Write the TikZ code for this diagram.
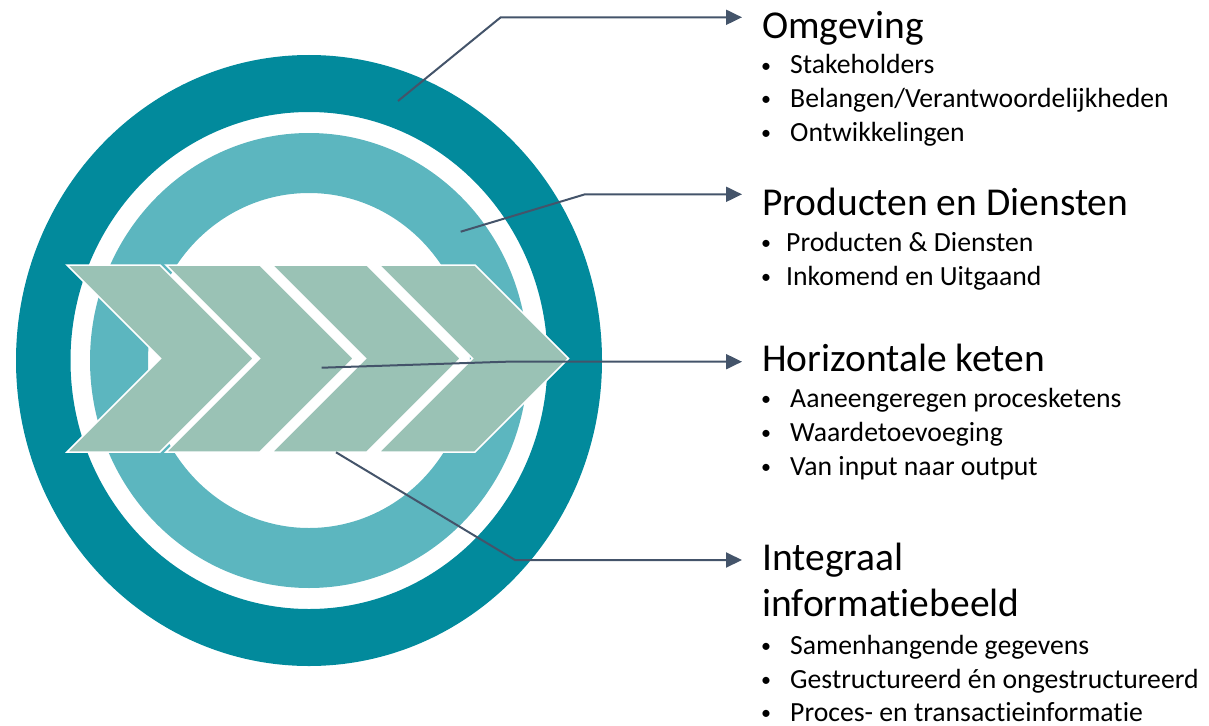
\documentclass[tikz,border=0pt]{standalone}
\usepackage{fontspec}
\setmainfont[Ligatures=CommonOff]{Carlito}
\usetikzlibrary{arrows.meta}
\definecolor{darkteal}{HTML}{028A9C}
\definecolor{lightteal}{HTML}{5CB6BF}
\definecolor{chevfill}{HTML}{9AC2B5}
\definecolor{linecol}{HTML}{44546A}
\begin{document}
\begin{tikzpicture}[x=1pt,y=-1pt,
  chevbox/.style={fill=chevfill,draw=white,line width=1.5pt,line join=miter},
  conn/.style={draw=linecol,line width=2pt,-{Triangle[length=16pt,width=15pt]}},
  headtxt/.style={anchor=base west,inner sep=0pt,font=\fontsize{39.5}{46}\selectfont},
  itemtxt/.style={anchor=base west,inner sep=0pt,font=\fontsize{27.7}{32}\selectfont},
  bul/.style={anchor=base,inner sep=0pt,font=\fontsize{20}{24}\selectfont}]
\useasboundingbox (0,0) rectangle (1209,725);
% rings
\fill[darkteal,even odd rule] (309,360.5) ellipse [x radius=293pt, y radius=305.5pt]
  (309,360.5) ellipse [x radius=238.5pt, y radius=248.5pt];
\fill[lightteal,even odd rule] (309,360.5) ellipse [x radius=219pt, y radius=227.5pt]
  (309,360.5) ellipse [x radius=161pt, y radius=167.5pt];
% chevrons
\foreach \xl/\xr in {67/160,166/260,272/367,379/475}{
  \draw[chevbox] (\xl,265) -- (\xr,265) -- ({\xr+93.5},358.5) -- (\xr,452) -- (\xl,452) -- ({\xl+93.5},358.5) -- cycle;
}
% connector points
\coordinate (s1) at (398,101);   \coordinate (b1) at (500.7,17.3); \coordinate (t1) at (742,17.3);
\coordinate (s2) at (460.7,231.7); \coordinate (b2) at (585,194.3); \coordinate (t2) at (742,194.3);
\coordinate (s3) at (321.7,367.7); \coordinate (b3) at (507,361.7); \coordinate (t3) at (742,361.7);
\coordinate (s4) at (336,452.3); \coordinate (b4) at (515,560); \coordinate (t4) at (742,560);
\draw[conn] (s1) -- (b1) -- (t1);
\draw[conn] (s2) -- (b2) -- (t2);
\draw[conn] (s3) -- (b3) -- (t3);
\draw[conn] (s4) -- (b4) -- (t4);
% text: Omgeving
\node[headtxt] (h1) at (762,38) {Omgeving};
\node[bul] (d11) at (766,72) {•};   \node[itemtxt] (i11) at (790,74) {Stakeholders};
\node[bul] (d12) at (766,105.5) {•}; \node[itemtxt] (i12) at (790,107.5) {Belangen/Verantwoordelijkheden};
\node[bul] (d13) at (766,139.5) {•}; \node[itemtxt] (i13) at (790,141.5) {Ontwikkelingen};
% Producten
\node[headtxt] (h2) at (762,215) {Producten en Diensten};
\node[bul] (d21) at (766,249.5) {•}; \node[itemtxt] (i21) at (786,251.5) {Producten \& Diensten};
\node[bul] (d22) at (766,283.5) {•}; \node[itemtxt] (i22) at (786,285.5) {Inkomend en Uitgaand};
% Horizontale keten
\node[headtxt] (h3) at (762,371.5) {Horizontale keten};
\node[bul] (d31) at (766,405.5) {•}; \node[itemtxt] (i31) at (790,407.5) {Aaneengeregen procesketens};
\node[bul] (d32) at (766,439.5) {•}; \node[itemtxt] (i32) at (790,441.5) {Waardetoevoeging};
\node[bul] (d33) at (766,473.5) {•}; \node[itemtxt] (i33) at (790,475.5) {Van input naar output};
% Integraal
\node[headtxt] (h4) at (762,570) {Integraal};
\node[headtxt] (h5) at (762,616.5) {informatiebeeld};
\node[bul] (d41) at (766,652) {•}; \node[itemtxt] (i41) at (790,654) {Samenhangende gegevens};
\node[bul] (d42) at (766,686) {•}; \node[itemtxt] (i42) at (790,688) {Gestructureerd én ongestructureerd};
\node[bul] (d43) at (766,719.5) {•}; \node[itemtxt] (i43) at (790,721.5) {Proces- en transactieinformatie};
\end{tikzpicture}
\end{document}
